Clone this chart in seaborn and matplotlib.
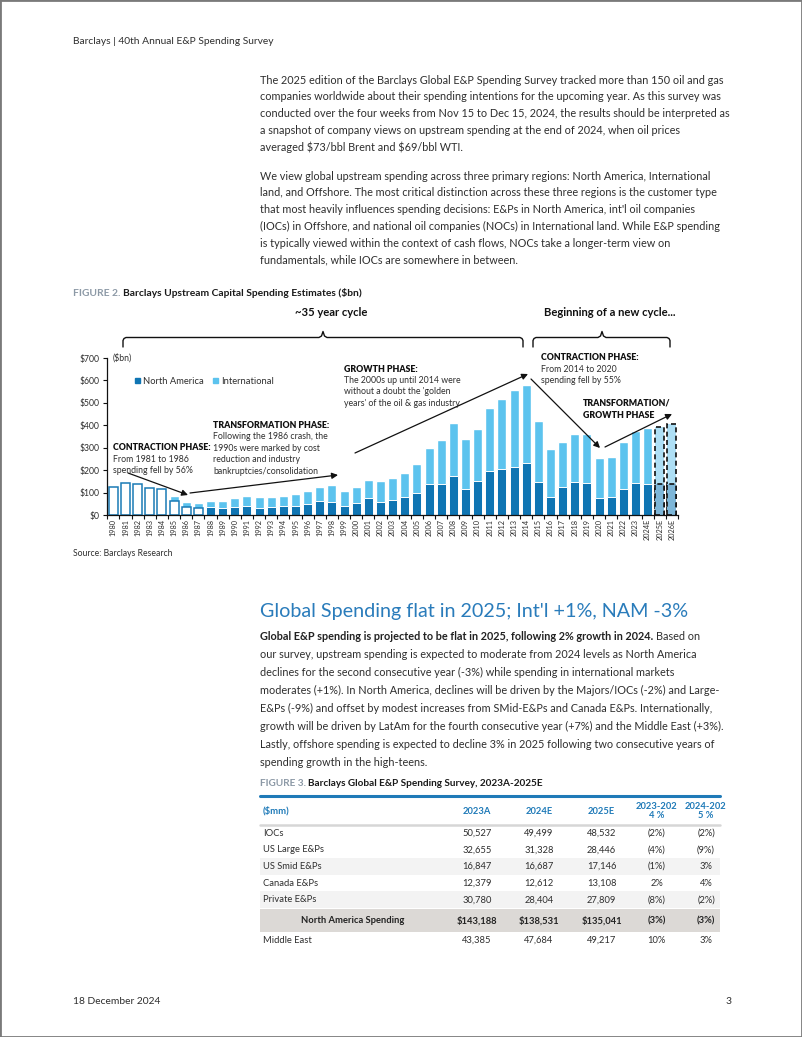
import matplotlib
matplotlib.use("Agg")
import numpy as np
import pandas as pd
import seaborn as sns
import matplotlib.pyplot as plt
from matplotlib.patches import Rectangle, FancyArrowPatch
from matplotlib.lines import Line2D

sns.set_theme(style="white")
plt.rcParams["font.family"] = ["Lato", "DejaVu Sans"]
plt.rcParams["text.parse_math"] = False

W, H = 802, 1037

# ---- chart data ($bn) ----
years = [str(y) for y in range(1980, 2024)] + ["2024E", "2025E", "2026E"]
total_spend = [123, 144, 136, 119, 115, 86, 58, 55, 62, 62,
               74, 84, 80, 81, 84, 93, 108, 126, 133, 107,
               123, 156, 150, 164, 186, 228, 298, 334, 412, 340,
               385, 478, 518, 556, 579, 417, 296, 325, 360, 361,
               252, 260, 324, 376, 387, 391, 406]
north_america = [None, None, None, None, None, 64, 37, 32, 37, 32,
                 37, 38, 30, 37, 40, 40, 49, 61, 58, 40,
                 55, 74, 60, 67, 79, 100, 138, 140, 174, 118,
                 151, 196, 205, 212, 231, 148, 82, 123, 148, 141,
                 78, 80, 114, 143, 137, 138, 139]
outlined_na = ["1985", "1986", "1987"]
forecast = ["2025E", "2026E"]

# ---- table data ($mm) ----
table_header = ["($mm)", "2023A", "2024E", "2025E", "2023-202\n4 %", "2024-202\n5 %"]
row_names = ["IOCs", "US Large E&Ps", "US Smid E&Ps", "Canada E&Ps", "Private E&Ps",
             "North America Spending", "Middle East"]
spend_2023 = ["50,527", "32,655", "16,847", "12,379", "30,780", "$143,188", "43,385"]
spend_2024 = ["49,499", "31,328", "16,687", "12,612", "28,404", "$138,531", "47,684"]
spend_2025 = ["48,532", "28,446", "17,146", "13,108", "27,809", "$135,041", "49,217"]
chg_2324 = ["(2%)", "(4%)", "(1%)", "2%", "(8%)", "(3%)", "10%"]
chg_2425 = ["(2%)", "(9%)", "3%", "4%", "(2%)", "(3%)", "3%"]

para1 = [
    "The 2025 edition of the Barclays Global E&P Spending Survey tracked more than 150 oil and gas",
    "companies worldwide about their spending intentions for the upcoming year. As this survey was",
    "conducted over the four weeks from Nov 15 to Dec 15, 2024, the results should be interpreted as",
    "a snapshot of company views on upstream spending at the end of 2024, when oil prices",
    "averaged $73/bbl Brent and $69/bbl WTI.",
]
para2 = [
    "We view global upstream spending across three primary regions: North America, International",
    "land, and Offshore. The most critical distinction across these three regions is the customer type",
    "that most heavily influences spending decisions: E&Ps in North America, int'l oil companies",
    "(IOCs) in Offshore, and national oil companies (NOCs) in International land. While E&P spending",
    "is typically viewed within the context of cash flows, NOCs take a longer-term view on",
    "fundamentals, while IOCs are somewhere in between.",
]
para3_bold = "Global E&P spending is projected to be flat in 2025, following 2% growth in 2024."
para3 = [
    "Based on",
    "our survey, upstream spending is expected to moderate from 2024 levels as North America",
    "declines for the second consecutive year (-3%) while spending in international markets",
    "moderates (+1%). In North America, declines will be driven by the Majors/IOCs (-2%) and Large-",
    "E&Ps (-9%) and offset by modest increases from SMid-E&Ps and Canada E&Ps. Internationally,",
    "growth will be driven by LatAm for the fourth consecutive year (+7%) and the Middle East (+3%).",
    "Lastly, offshore spending is expected to decline 3% in 2025 following two consecutive years of",
    "spending growth in the high-teens.",
]

TEXT = "#2e2e2e"
DARK = "#0f75b3"
LIGHT = "#5cc3ee"
OUTLINE = "#1a7ab5"
BLUE_HEAD = "#2a7cbb"
FIG_GRAY = "#8c99a6"

fig = plt.figure(figsize=(W / 100, H / 100), dpi=100)
fig.patch.set_facecolor("white")
renderer = fig.canvas.get_renderer()


def P(x, y):
    return x / W, 1 - y / H


def fit(s, px, weight="normal"):
    t = fig.text(0, 0, s, fontsize=10, fontweight=weight)
    w = t.get_window_extent(renderer).width
    t.remove()
    return 10 * px / w


def put(x, y, s, size, weight="normal", color=TEXT, ha="left", va="center", **kw):
    return fig.text(*P(x, y), s, fontsize=size, fontweight=weight, color=color,
                    ha=ha, va=va, **kw)


body = fit(para1[2], 467)
small = fit("Barclays | 40th Annual E&P Spending Survey", 200)

# page frame, header, footer
fig.add_artist(Rectangle((0, 0), 1, 1, transform=fig.transFigure, fill=False,
                         edgecolor="#7a7a7a", lw=2))
put(73, 42, "Barclays | 40th Annual E&P Spending Survey", small)
put(73, 1002, "18 December 2024", small)
put(726, 1002, "3", small)

for i, line in enumerate(para1):
    put(260, 80 + 16.8 * i, line, body)
for i, line in enumerate(para2):
    put(260, 176 + 16.8 * i, line, body)

# figure 2 title
cap = fit("FIGURE 2. Barclays Upstream Capital Spending Estimates ($bn)", 289, "bold")
t = put(73, 293, "FIGURE 2. ", cap, "bold", FIG_GRAY)
x1 = t.get_window_extent(renderer).x1
put(x1, 293, "Barclays Upstream Capital Spending Estimates ($bn)", cap, "bold", "#1a1a1a")

# ---- bar chart ----
ax = fig.add_axes([106.7 / W, 1 - 515 / H, (678 - 106.7) / W, 157 / H])
df = pd.DataFrame({"year": years, "total": total_spend, "north_america": north_america})
df["lower"] = df["north_america"].fillna(df["total"])
sns.barplot(data=df, x="year", y="total", color=LIGHT, width=0.74, saturation=1, ax=ax)
sns.barplot(data=df, x="year", y="lower", color=DARK, width=0.74, saturation=1, ax=ax)

for yr, tb, lb in zip(years, ax.containers[0], ax.containers[1]):
    if yr in forecast:
        tb.set(facecolor="#aedff5", edgecolor="#111111", lw=1.2, linestyle=(0, (3, 2)))
        lb.set(facecolor="#7db6d8", edgecolor="#111111", lw=1.2, linestyle=(0, (3, 2)))
    elif yr in outlined_na:
        lb.set(facecolor="white", edgecolor=OUTLINE, lw=1.1)
    elif pd.isna(df.loc[df.year == yr, "north_america"]).all():
        tb.set(facecolor="white", edgecolor=OUTLINE, lw=1.1)
        lb.set_visible(False)
    else:
        lb.set(edgecolor="white", lw=0.7)

ax.set_xlim(-0.55, len(years) - 0.5)
ax.set_ylim(0, 700)
ax.set_xlabel("")
ax.set_ylabel("")
sns.despine(ax=ax)
for s in ["left", "bottom"]:
    ax.spines[s].set_color("#111111")
    ax.spines[s].set_linewidth(0.9)

tick_sz = fit("$700", 20)
ax.set_yticks(range(0, 701, 100))
ax.set_yticklabels([f"${v}" for v in range(0, 701, 100)], fontsize=tick_sz, color=TEXT)
ax.set_xticks(range(len(years)))
ax.set_xticklabels(years, rotation=90, fontsize=fit("1980", 17), color=TEXT)
ax.set_xticks(np.arange(-0.5, len(years), 1), minor=True)
ax.tick_params(axis="y", length=3, width=0.8, color="#111111", left=True, pad=2)
ax.tick_params(axis="x", which="major", length=0, pad=3)
ax.tick_params(axis="x", which="minor", length=3, width=0.8, color="#111111", bottom=True)
ax.grid(False)
put(113, 358, "($bn)", tick_sz)

leg_sz = fit("North America", 61)
ax.legend([Rectangle((0, 0), 1, 1, color=DARK), Rectangle((0, 0), 1, 1, color=LIGHT)],
          ["North America", "International"], loc="center left",
          bbox_to_anchor=(0.035, 0.853), ncol=2, frameon=False, fontsize=leg_sz,
          handlelength=0.5, handleheight=0.5, handletextpad=0.35, columnspacing=1.0,
          labelcolor=TEXT)

# annotations
ann = fit("bankruptcies/consolidation", 105)


def note(x, y0, head, lines):
    put(x, y0, head, ann, "heavy", "#111111")
    for k, ln in enumerate(lines):
        put(x, y0 + 11.4 * (k + 1), ln, ann)


note(113, 448, "CONTRACTION PHASE:", ["From 1981 to 1986", "spending fell by 56%"])
note(213, 425.5, "TRANSFORMATION PHASE:", ["Following the 1986 crash, the",
                                          "1990s were marked by cost",
                                          "reduction and industry",
                                          "bankruptcies/consolidation"])
note(344, 369, "GROWTH PHASE:", ["The 2000s up until 2014 were",
                                 "without a doubt the 'golden",
                                 "years' of the oil & gas industry"])
note(541, 358, "CONTRACTION PHASE:", ["From 2014 to 2020", "spending fell by 55%"])
put(583, 403.5, "TRANSFORMATION/", ann, "heavy", "#111111")
put(583, 415, "GROWTH PHASE", ann, "heavy", "#111111")


def arrow(p0, p1):
    fig.add_artist(FancyArrowPatch(P(*p0), P(*p1), transform=fig.transFigure,
                                   arrowstyle="-|>", mutation_scale=9, lw=0.9,
                                   color="#111111", shrinkA=0, shrinkB=0))


arrow((128, 473), (188, 495))
arrow((190, 493), (338, 475))
arrow((355, 453), (528, 374))
arrow((531, 379), (600, 448))
arrow((605, 447), (672, 414))


def brace(x0, x1, xm, yt=337.5, yb=347):
    xs = [x0, x0, x0 + 1, x0 + 3, xm - 4, xm - 1.5, xm, xm + 1.5, xm + 4, x1 - 3, x1 - 1, x1, x1]
    ys = [yb, yt + 3, yt + 1, yt, yt, yt - 1.5, yt - 6, yt - 1.5, yt, yt, yt + 1, yt + 3, yb]
    fx = [x / W for x in xs]
    fy = [1 - y / H for y in ys]
    fig.add_artist(Line2D(fx, fy, transform=fig.transFigure, color="#111111", lw=1.0))


brace(123, 523, 323)
brace(533, 670, 602)
br = fit("Beginning of a new cycle...", 132, "bold")
put(331, 313, "~35 year cycle", br, "bold", "#111111", ha="center")
put(610, 313, "Beginning of a new cycle...", br, "bold", "#111111", ha="center")

put(73, 553, "Source: Barclays Research", fit("Source: Barclays Research", 99))

# ---- section heading + paragraph 3 ----
put(260, 612, "Global Spending flat in 2025; Int'l +1%, NAM -3%",
    fit("Global Spending flat in 2025; Int'l +1%, NAM -3%", 428), color=BLUE_HEAD)
t = put(260, 636, para3_bold, body, "bold", "#222222")
x1 = t.get_window_extent(renderer).x1
put(x1 + 3, 636, para3[0], body)
for i, line in enumerate(para3[1:], start=1):
    put(260, 636 + 18.0 * i, line, body)

# ---- table ----
cap3 = fit("FIGURE 3. Barclays Global E&P Spending Survey, 2023A-2025E", 283, "bold")
t = put(260, 783, "FIGURE 3. ", cap3, "bold", FIG_GRAY)
x1 = t.get_window_extent(renderer).x1
put(x1, 783, "Barclays Global E&P Spending Survey, 2023A-2025E", cap3, "bold", "#1a1a1a")

tsz = fit("US Large E&Ps", 60.7)
tbl_left, tbl_right = 260, 720
row_top = [825, 841.6, 858.2, 874.8, 891.4, 909, 932]
row_h = [16.6, 16.6, 16.6, 16.6, 16.6, 23, 16.6]
shade = {2: "#f3f3f3", 4: "#f3f3f3", 5: "#dcd9d6"}
for r, c in shade.items():
    fig.add_artist(Rectangle(P(tbl_left, row_top[r] + row_h[r]), (tbl_right - tbl_left) / W,
                             row_h[r] / H, transform=fig.transFigure, color=c, lw=0))
fig.add_artist(Line2D([tbl_left / W, tbl_right / W], [1 - 795.5 / H] * 2,
                      transform=fig.transFigure, color="#1f7ab8", lw=2.2))
fig.add_artist(Line2D([tbl_left / W, tbl_right / W], [1 - 825 / H] * 2,
                      transform=fig.transFigure, color="#d6d6d6", lw=1.8))

col_x = [263, 477, 539, 601.5, 656.5, 706]
put(col_x[0], 811, table_header[0], tsz, "bold", "#1f7ab8")
for cx, h in zip(col_x[1:], table_header[1:]):
    put(cx, 811, h, tsz, "bold", "#1f7ab8", ha="center", linespacing=1.05)

for r, name in enumerate(row_names):
    yc = row_top[r] + row_h[r] / 2
    vals = [spend_2023[r], spend_2024[r], spend_2025[r], chg_2324[r], chg_2425[r]]
    if r == 5:
        put(352.5, yc, name, tsz, "bold", "#222222", ha="center")
        for cx, v in zip(col_x[1:], vals):
            put(cx, yc, v, tsz, "bold", "#222222", ha="center")
    else:
        put(col_x[0], yc, name, tsz)
        for cx, v in zip(col_x[1:], vals):
            put(cx, yc, v, tsz, ha="center")

fig.savefig("out.png", dpi=100, facecolor="white")
